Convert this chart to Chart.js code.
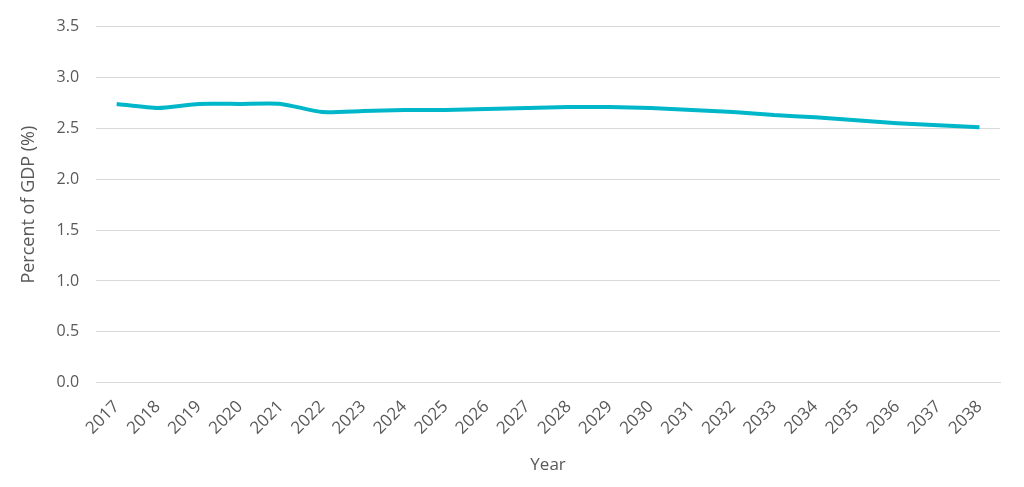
<!DOCTYPE html>
<html>
<head>
<meta charset="utf-8">
<script src="https://cdn.jsdelivr.net/npm/chart.js@4"></script>
<style>
  html, body { margin: 0; padding: 0; background: #fff; }
  #wrap { width: 1024px; height: 487px; }
</style>
</head>
<body>
<div id="wrap"><canvas id="chart"></canvas></div>
<script>
// years on the x axis
var years = ['2017', '2018', '2019', '2020', '2021', '2022', '2023', '2024', '2025', '2026', '2027',
             '2028', '2029', '2030', '2031', '2032', '2033', '2034', '2035', '2036', '2037', '2038'];
// percent of GDP
var pctGdp = [2.74, 2.70, 2.74, 2.74, 2.74, 2.66, 2.67, 2.68, 2.68, 2.69, 2.70,
              2.71, 2.71, 2.70, 2.68, 2.66, 2.63, 2.61, 2.58, 2.55, 2.53, 2.51];
var yTicks = [0, 0.5, 1, 1.5, 2, 2.5, 3, 3.5];

var font = "'Open Sans', 'Liberation Sans', sans-serif";
var grey = '#595959';

var ctx = document.getElementById('chart').getContext('2d');
var myChart = new Chart(ctx, {
    type: 'line',
    data: {
        labels: years,
        datasets: [{
            data: pctGdp,
            borderColor: '#00B7C9',
            borderWidth: 4,
            pointRadius: 0,
            tension: 0.2,
            fill: false
        }]
    },
    options: {
        responsive: true,
        maintainAspectRatio: false,
        animation: false,
        layout: { padding: { left: 14, right: 24, top: 15, bottom: 8 } },
        plugins: { legend: { display: false }, tooltip: { enabled: false } },
        scales: {
            x: {
                offset: true,
                grid: { display: false },
                border: { display: true, color: '#d9d9d9', width: 1 },
                ticks: {
                    color: grey,
                    font: { family: font, size: 17 },
                    maxRotation: 45,
                    minRotation: 45,
                    padding: 6
                },
                title: {
                    display: true,
                    text: 'Year',
                    color: grey,
                    font: { family: font, size: 17 },
                    padding: { top: 10 }
                }
            },
            y: {
                min: 0,
                max: 3.5,
                afterBuildTicks: function(axis) {
                    axis.ticks = yTicks.map(function(v) { return { value: v }; });
                },
                grid: { color: '#d9d9d9', drawTicks: false },
                border: { display: false },
                ticks: {
                    color: grey,
                    font: { family: font, size: 16 },
                    padding: 17,
                    callback: function(v) { return Number(v).toFixed(1); }
                },
                title: {
                    display: true,
                    text: 'Percent of GDP (%)',
                    color: grey,
                    font: { family: font, size: 18 },
                    padding: { bottom: 0 }
                }
            }
        }
    }
});
</script>
</body>
</html>
